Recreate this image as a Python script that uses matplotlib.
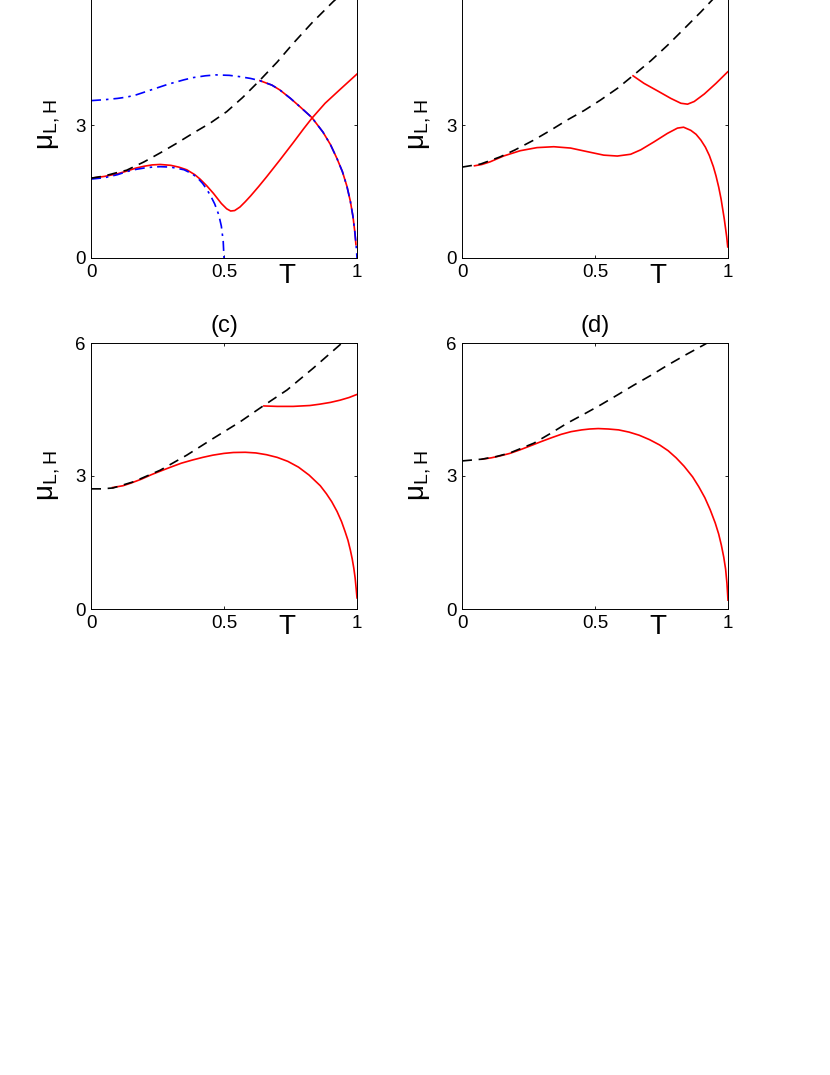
import matplotlib
matplotlib.use("Agg")
import matplotlib.pyplot as plt

plt.rcParams['font.family'] = ['Liberation Sans', 'DejaVu Sans']
plt.rcParams['mathtext.fontset'] = 'custom'
plt.rcParams['mathtext.rm'] = 'Liberation Sans'

# ---- panel (a) ----
a_dash_T = [0, 0.05, 0.1, 0.134, 0.2, 0.26, 0.32, 0.385, 0.45, 0.51, 0.57, 0.635, 0.7, 0.76, 0.83, 0.91, 0.97]
a_dash_mu = [1.80, 1.85, 1.93, 1.98, 2.17, 2.37, 2.58, 2.82, 3.05, 3.30, 3.62, 4.01, 4.42, 4.84, 5.30, 5.78, 6.1]

a_blue_up_T = [0, 0.05, 0.1, 0.135, 0.17, 0.2, 0.23, 0.26, 0.29, 0.32, 0.35, 0.385, 0.43, 0.47, 0.52, 0.56, 0.6, 0.635,
               0.68, 0.71, 0.75, 0.786, 0.83, 0.872, 0.9, 0.925, 0.945, 0.962, 0.975, 0.985, 0.992, 0.997, 1.0]
a_blue_up_mu = [3.55, 3.57, 3.60, 3.63, 3.68, 3.74, 3.80, 3.86, 3.92, 3.97, 4.02, 4.07, 4.11, 4.13, 4.12, 4.09, 4.05, 4.00,
                3.90, 3.79, 3.60, 3.41, 3.17, 2.84, 2.56, 2.24, 1.95, 1.62, 1.28, 0.93, 0.58, 0.27, 0.0]

a_blue_lo_T = [0, 0.05, 0.1, 0.135, 0.17, 0.2, 0.23, 0.26, 0.3, 0.35, 0.38, 0.4, 0.42, 0.435, 0.45, 0.465, 0.48, 0.49, 0.497, 0.5]
a_blue_lo_mu = [1.78, 1.81, 1.88, 1.95, 2.00, 2.03, 2.05, 2.06, 2.05, 1.99, 1.90, 1.81, 1.68, 1.55, 1.40, 1.22, 0.98, 0.72, 0.38, 0.0]

a_red_lo_T = [0, 0.05, 0.1, 0.134, 0.17, 0.2, 0.23, 0.26, 0.3, 0.33, 0.36, 0.39, 0.41, 0.435, 0.46, 0.49, 0.51, 0.525,
              0.54, 0.56, 0.58, 0.6, 0.63, 0.66, 0.71, 0.76, 0.8, 0.83, 0.88, 0.936, 1.0]
a_red_lo_mu = [1.80, 1.84, 1.90, 1.96, 2.03, 2.07, 2.10, 2.11, 2.09, 2.05, 1.99, 1.88, 1.78, 1.63, 1.46, 1.23, 1.11, 1.06,
               1.07, 1.15, 1.27, 1.40, 1.61, 1.83, 2.21, 2.60, 2.92, 3.15, 3.49, 3.80, 4.15]

a_red_up_T = [0.635, 0.68, 0.71, 0.75, 0.786, 0.83, 0.872, 0.9, 0.925, 0.945, 0.962, 0.975, 0.985, 0.992, 0.996]
a_red_up_mu = [4.00, 3.90, 3.79, 3.60, 3.41, 3.17, 2.84, 2.56, 2.24, 1.95, 1.62, 1.28, 0.93, 0.58, 0.30]

# ---- panel (b) ----
b_dash_T = [0, 0.07, 0.143, 0.2, 0.27, 0.33, 0.395, 0.46, 0.52, 0.585, 0.646, 0.71, 0.773, 0.835, 0.898, 0.95, 0.99]
b_dash_mu = [2.05, 2.12, 2.28, 2.44, 2.66, 2.87, 3.11, 3.33, 3.56, 3.83, 4.13, 4.45, 4.80, 5.17, 5.55, 5.88, 6.1]

b_red_lo_T = [0.047, 0.075, 0.106, 0.156, 0.219, 0.282, 0.345, 0.408, 0.47, 0.533, 0.584, 0.634, 0.672, 0.722,
              0.772, 0.81, 0.833, 0.86, 0.88, 0.898, 0.915, 0.93, 0.945, 0.955, 0.965, 0.974, 0.986, 0.995, 0.999]
b_red_lo_mu = [2.08, 2.11, 2.17, 2.30, 2.42, 2.49, 2.51, 2.48, 2.40, 2.32, 2.30, 2.34, 2.44, 2.62,
               2.81, 2.93, 2.95, 2.88, 2.79, 2.66, 2.50, 2.31, 2.06, 1.85, 1.60, 1.33, 0.88, 0.48, 0.25]

b_red_up_T = [0.643, 0.684, 0.735, 0.785, 0.823, 0.848, 0.873, 0.911, 0.955, 0.999]
b_red_up_mu = [4.11, 3.94, 3.77, 3.60, 3.49, 3.47, 3.53, 3.70, 3.94, 4.20]

# ---- panel (c) ----
c_dash_T = [0, 0.04, 0.083, 0.16, 0.26, 0.36, 0.46, 0.56, 0.647, 0.737, 0.835, 0.936, 0.96]
c_dash_mu = [2.71, 2.71, 2.73, 2.87, 3.13, 3.47, 3.85, 4.22, 4.58, 4.94, 5.43, 5.96, 6.1]

c_red_lo_T = [0.081, 0.12, 0.15, 0.19, 0.227, 0.265, 0.304, 0.34, 0.381, 0.42, 0.458, 0.5, 0.535, 0.58, 0.62,
              0.66, 0.7, 0.74, 0.78, 0.82, 0.862, 0.885, 0.905, 0.925, 0.942, 0.955, 0.966, 0.975, 0.982,
              0.988, 0.993, 0.997, 1.0]
c_red_lo_mu = [2.74, 2.78, 2.84, 2.93, 3.03, 3.12, 3.21, 3.29, 3.36, 3.42, 3.47, 3.51, 3.53, 3.535, 3.52,
               3.48, 3.42, 3.33, 3.20, 3.02, 2.78, 2.60, 2.42, 2.20, 1.97, 1.75, 1.55, 1.33, 1.13,
               0.92, 0.70, 0.45, 0.25]

c_red_up_T = [0.65, 0.7, 0.76, 0.823, 0.86, 0.9, 0.936, 0.97, 1.0]
c_red_up_mu = [4.58, 4.57, 4.57, 4.59, 4.62, 4.66, 4.71, 4.77, 4.84]

# ---- panel (d) ----
d_dash_T = [0, 0.075, 0.13, 0.18, 0.27, 0.33, 0.395, 0.46, 0.52, 0.585, 0.646, 0.71, 0.773, 0.84, 0.91, 0.95]
d_dash_mu = [3.34, 3.38, 3.44, 3.52, 3.74, 3.95, 4.19, 4.40, 4.60, 4.83, 5.05, 5.27, 5.50, 5.73, 5.96, 6.1]

d_red_T = [0.076, 0.11, 0.141, 0.18, 0.218, 0.257, 0.295, 0.335, 0.373, 0.41, 0.45, 0.48, 0.512, 0.55,
           0.589, 0.628, 0.666, 0.705, 0.743, 0.775, 0.805, 0.835, 0.867, 0.89, 0.913, 0.933, 0.952,
           0.965, 0.975, 0.984, 0.991, 0.996, 1.0]
d_red_mu = [3.38, 3.41, 3.45, 3.51, 3.59, 3.68, 3.77, 3.86, 3.94, 4.00, 4.04, 4.06, 4.07, 4.06,
            4.04, 3.99, 3.92, 3.82, 3.70, 3.57, 3.41, 3.22, 2.98, 2.76, 2.51, 2.24, 1.94,
            1.69, 1.44, 1.17, 0.90, 0.58, 0.20]

xticks = [0, 0.5, 1]
xticklabels = ['0', '0.5', '1']
yticks = [0, 3, 6]
yticklabels = ['0', '3', '6']

W, H = 830, 1075
fig = plt.figure(figsize=(W / 100, H / 100), dpi=100)


def make_ax(left, top, title=None):
    # pixel box -> figure fraction
    w, h = 266, 266
    ax = fig.add_axes([left / W, 1 - (top + h) / H, w / W, h / H])
    ax.set_xlim(0, 1)
    ax.set_ylim(0, 6)
    ax.set_xticks(xticks)
    ax.set_xticklabels(xticklabels)
    ax.set_yticks(yticks)
    ax.set_yticklabels(yticklabels)
    ax.tick_params(direction='in', length=2.5, width=0.6, top=True, right=True,
                   labelsize=13.5, pad=4.5)
    ax.tick_params(axis='y', pad=4)
    for s in ax.spines.values():
        s.set_linewidth(0.7)
    ax.set_xlabel('T', fontsize=20, va='top')
    ax.xaxis.set_label_coords(0.737, -0.018)
    ax.set_ylabel(r'μ$_{\mathrm{L,H}}$', fontsize=20)
    ax.yaxis.set_label_coords(-0.105, 0.5)
    if title:
        ax.set_title(title, fontsize=17, pad=8)
    return ax


dash = (0, (6, 4))
dashdot = (0, (6, 3, 1.5, 3))
lw = 1.2

ax_a = make_ax(91, -8)
ax_a.plot(a_red_lo_T, a_red_lo_mu, color='red', lw=lw)
ax_a.plot(a_red_up_T, a_red_up_mu, color='red', lw=lw)
ax_a.plot(a_blue_up_T, a_blue_up_mu, color='blue', lw=lw, ls=dashdot)
ax_a.plot(a_blue_lo_T, a_blue_lo_mu, color='blue', lw=lw, ls=dashdot)
ax_a.plot(a_dash_T, a_dash_mu, color='black', lw=lw, ls=dash)

ax_b = make_ax(462, -8)
ax_b.plot(b_red_lo_T, b_red_lo_mu, color='red', lw=lw)
ax_b.plot(b_red_up_T, b_red_up_mu, color='red', lw=lw)
ax_b.plot(b_dash_T, b_dash_mu, color='black', lw=lw, ls=dash)

ax_c = make_ax(91, 343, '(c)')
ax_c.plot(c_red_lo_T, c_red_lo_mu, color='red', lw=lw)
ax_c.plot(c_red_up_T, c_red_up_mu, color='red', lw=lw)
ax_c.plot(c_dash_T, c_dash_mu, color='black', lw=lw, ls=dash)

ax_d = make_ax(462, 343, '(d)')
ax_d.plot(d_red_T, d_red_mu, color='red', lw=lw)
ax_d.plot(d_dash_T, d_dash_mu, color='black', lw=lw, ls=dash)

fig.savefig('out.png', dpi=100)
